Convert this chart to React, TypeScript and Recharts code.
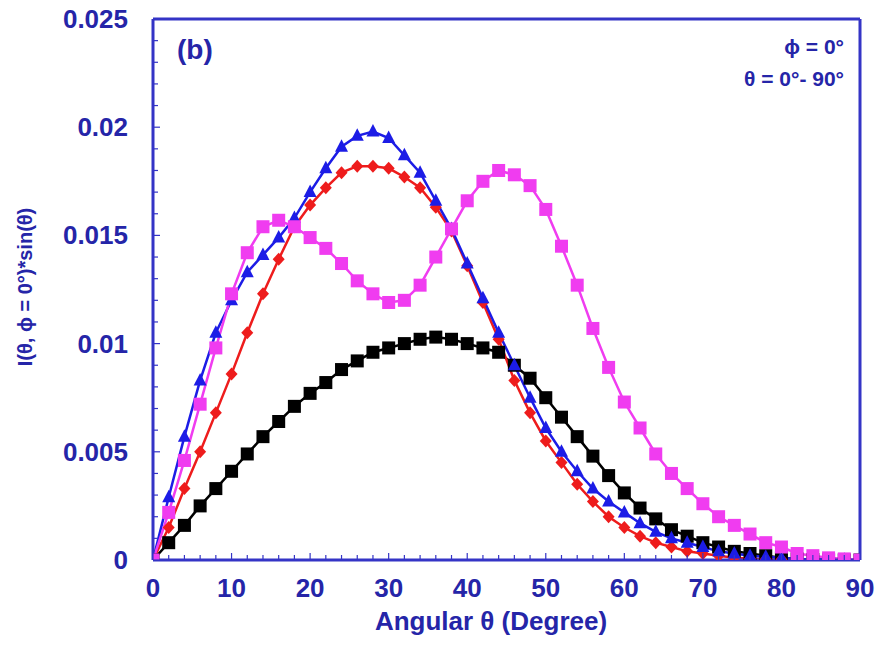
import React from "react";
import {
  LineChart,
  Line,
  XAxis,
  YAxis,
  ReferenceLine,
} from "recharts";

// angle θ in degrees, sampled every 2°
const theta = [
  0, 2, 4, 6, 8, 10, 12, 14, 16, 18, 20, 22, 24, 26, 28, 30, 32, 34, 36, 38,
  40, 42, 44, 46, 48, 50, 52, 54, 56, 58, 60, 62, 64, 66, 68, 70, 72, 74, 76,
  78, 80, 82, 84, 86, 88, 90,
];

const blackSeries = [
  0, 0.0008, 0.0016, 0.0025, 0.0033, 0.0041, 0.0049, 0.0057, 0.0064, 0.0071,
  0.0077, 0.0082, 0.0088, 0.0092, 0.0096, 0.0098, 0.01, 0.0102, 0.0103, 0.0102,
  0.01, 0.0098, 0.0096, 0.009, 0.0084, 0.0075, 0.0066, 0.0057, 0.0048, 0.0039,
  0.0031, 0.0024, 0.0019, 0.0014, 0.0011, 0.0008, 0.0006, 0.0004, 0.0003,
  0.0002, 0.0001, 0.00005, 0.00002, 0.00001, 0, 0,
];

const redSeries = [
  0, 0.0015, 0.0033, 0.005, 0.0068, 0.0086, 0.0105, 0.0123, 0.0139, 0.0154,
  0.0164, 0.0172, 0.0179, 0.0182, 0.0182, 0.0181, 0.0177, 0.0172, 0.0163,
  0.0152, 0.0136, 0.0119, 0.0102, 0.0083, 0.0068, 0.0055, 0.0045, 0.0035,
  0.0027, 0.002, 0.0015, 0.0011, 0.0008, 0.0006, 0.0004, 0.0003, 0.0002,
  0.0001, 0.00006, 0.00003, 0.00002, 0.00001, 0, 0, 0, 0,
];

const blueSeries = [
  0, 0.0029, 0.0057, 0.0083, 0.0105, 0.012, 0.0133, 0.0141, 0.0149, 0.0158,
  0.017, 0.0181, 0.0191, 0.0196, 0.0198, 0.0195, 0.0187, 0.0179, 0.0166,
  0.0153, 0.0137, 0.0121, 0.0105, 0.009, 0.0075, 0.0061, 0.005, 0.0041, 0.0033,
  0.0027, 0.0022, 0.0017, 0.0013, 0.001, 0.0008, 0.0006, 0.0004, 0.0003,
  0.0002, 0.00015, 0.0001, 0.00005, 0.00003, 0.00002, 0.00001, 0,
];

const magentaSeries = [
  0, 0.0022, 0.0046, 0.0072, 0.0098, 0.0123, 0.0142, 0.0154, 0.0157, 0.0154,
  0.0149, 0.0144, 0.0137, 0.0129, 0.0123, 0.0119, 0.012, 0.0127, 0.014, 0.0153,
  0.0166, 0.0175, 0.018, 0.0178, 0.0173, 0.0162, 0.0145, 0.0127, 0.0107,
  0.0089, 0.0073, 0.0061, 0.0049, 0.004, 0.0033, 0.0026, 0.002, 0.0016, 0.0012,
  0.0008, 0.0006, 0.0003, 0.0002, 0.0001, 0.00005, 0,
];

const xTicks = theta;
const yTicks = [
  0, 0.001, 0.002, 0.003, 0.004, 0.005, 0.006, 0.007, 0.008, 0.009, 0.01,
  0.011, 0.012, 0.013, 0.014, 0.015, 0.016, 0.017, 0.018, 0.019, 0.02, 0.021,
  0.022, 0.023, 0.024, 0.025,
];
const yLabels: Record<string, string> = {
  "0": "0",
  "0.005": "0.005",
  "0.01": "0.01",
  "0.015": "0.015",
  "0.02": "0.02",
  "0.025": "0.025",
};

const data = theta.map((t, i) => ({
  theta: t,
  black: blackSeries[i],
  red: redSeries[i],
  blue: blueSeries[i],
  magenta: magentaSeries[i],
}));

const AXIS = "#3434c6";
const TEXT = "#2525a8";
const FONT = "'Liberation Sans', Arial, sans-serif";

function XTick(props: any) {
  const { x, y, payload } = props;
  const major = payload.value % 10 === 0;
  return (
    <g>
      <line x1={x} x2={x} y1={y} y2={y - (major ? 7 : 5)} stroke={AXIS} strokeWidth={1.2} />
      {major && (
        <text
          x={x}
          y={y + 37}
          textAnchor="middle"
          fill={TEXT}
          fontFamily={FONT}
          fontWeight="bold"
          fontSize={26}
        >
          {payload.value}
        </text>
      )}
    </g>
  );
}

function YTick(props: any) {
  const { x, y, payload } = props;
  const key = String(Math.round(payload.value * 1000) / 1000);
  const label = yLabels[key];
  return (
    <g>
      <line x1={x} x2={x + (label ? 7 : 5)} y1={y} y2={y} stroke={AXIS} strokeWidth={1.2} />
      {label && (
        <text
          x={x - 25}
          y={y + 9}
          textAnchor="end"
          fill={TEXT}
          fontFamily={FONT}
          fontWeight="bold"
          fontSize={26}
        >
          {label}
        </text>
      )}
    </g>
  );
}

function squareDot(color: string) {
  return (p: any) => (
    <rect key={p.index} x={p.cx - 6.5} y={p.cy - 6.5} width={13} height={13} fill={color} />
  );
}

function diamondDot(color: string) {
  return (p: any) => (
    <polygon
      key={p.index}
      points={`${p.cx},${p.cy - 6.5} ${p.cx + 6},${p.cy} ${p.cx},${p.cy + 6.5} ${p.cx - 6},${p.cy}`}
      fill={color}
    />
  );
}

function triangleDot(color: string) {
  return (p: any) => (
    <polygon
      key={p.index}
      points={`${p.cx},${p.cy - 7.5} ${p.cx + 6.5},${p.cy + 5} ${p.cx - 6.5},${p.cy + 5}`}
      fill={color}
    />
  );
}

export default function App() {
  return (
    <div
      style={{
        position: "absolute",
        left: 0,
        top: 0,
        width: 880,
        height: 645,
        background: "#fff",
        fontFamily: FONT,
      }}
    >
      <LineChart
        width={880}
        height={645}
        data={data}
        margin={{ top: 19, right: 20, bottom: 0, left: 0 }}
      >
        <XAxis
          dataKey="theta"
          type="number"
          domain={[0, 90]}
          ticks={xTicks}
          interval={0}
          tickSize={0}
          tickMargin={0}
          tick={<XTick />}
          height={85}
          axisLine={{ stroke: AXIS, strokeWidth: 3 }}
          allowDataOverflow
        />
        <YAxis
          type="number"
          domain={[0, 0.025]}
          ticks={yTicks}
          interval={0}
          tickSize={0}
          tickMargin={0}
          tick={<YTick />}
          width={153}
          axisLine={{ stroke: AXIS, strokeWidth: 3 }}
          allowDataOverflow
        />
        <ReferenceLine y={0.025} stroke={AXIS} strokeWidth={3} />
        <ReferenceLine x={90} stroke={AXIS} strokeWidth={3} />
        <Line
          dataKey="black"
          type="linear"
          stroke="#000000"
          strokeWidth={2.5}
          dot={squareDot("#000000")}
          isAnimationActive={false}
        />
        <Line
          dataKey="red"
          type="linear"
          stroke="#ee1c1c"
          strokeWidth={2.5}
          dot={diamondDot("#ee1c1c")}
          isAnimationActive={false}
        />
        <Line
          dataKey="blue"
          type="linear"
          stroke="#1c1ce6"
          strokeWidth={2.5}
          dot={triangleDot("#1c1ce6")}
          isAnimationActive={false}
        />
        <Line
          dataKey="magenta"
          type="linear"
          stroke="#f03cf0"
          strokeWidth={2.5}
          dot={squareDot("#f03cf0")}
          isAnimationActive={false}
        />
      </LineChart>
      <div
        style={{
          position: "absolute",
          left: 25,
          top: 287,
          transform: "translate(-50%, -50%) rotate(-90deg)",
          whiteSpace: "nowrap",
          color: TEXT,
          fontWeight: "bold",
          fontSize: 20,
        }}
      >
        I(θ, ϕ = 0°)*sin(θ)
      </div>
      <div
        style={{
          position: "absolute",
          left: 491,
          top: 621,
          transform: "translate(-50%, -50%)",
          whiteSpace: "nowrap",
          color: TEXT,
          fontWeight: "bold",
          fontSize: 26,
        }}
      >
        Angular θ (Degree)
      </div>
      <div
        style={{
          position: "absolute",
          left: 177,
          top: 34,
          color: TEXT,
          fontWeight: "bold",
          fontSize: 28,
        }}
      >
        (b)
      </div>
      <div
        style={{
          position: "absolute",
          right: 36,
          top: 31,
          textAlign: "right",
          color: TEXT,
          fontWeight: "bold",
          fontSize: 21,
          lineHeight: "32px",
        }}
      >
        <div>ϕ = 0°</div>
        <div>θ = 0°- 90°</div>
      </div>
    </div>
  );
}
